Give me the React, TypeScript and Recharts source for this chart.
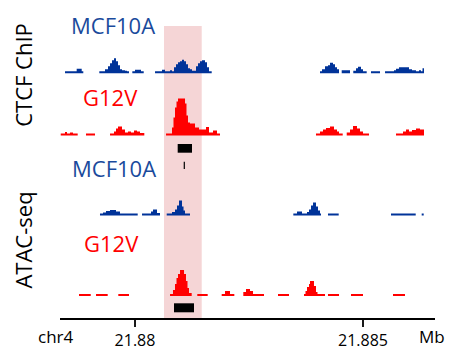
import React from "react";
import { ComposedChart, Area, Line, XAxis, YAxis } from "recharts";

// bedGraph-style tracks: [start bp, end bp, signal]
const ctcfMCF10A: [number, number, number][] = [
  [21878465, 21878721, 2], [21878721, 21878831, 4.5], [21878831, 21878866, 2],
  [21879217, 21879342, 2], [21879342, 21879408, 4], [21879408, 21879452, 7], [21879452, 21879496, 10],
  [21879496, 21879539, 13], [21879539, 21879583, 15], [21879583, 21879627, 12], [21879627, 21879671, 8],
  [21879671, 21879715, 4], [21879715, 21879781, 3], [21879781, 21879825, 2.5], [21879825, 21879868, 2],
  [21879941, 21880000, 2], [21880000, 21880132, 3.5], [21880132, 21880191, 2],
  [21880439, 21880592, 2], [21880592, 21880658, 3.5], [21880658, 21880768, 2], [21880768, 21880811, 3],
  [21880811, 21880855, 2], [21880855, 21880899, 6], [21880899, 21880943, 9], [21880943, 21880987, 11],
  [21880987, 21881031, 12], [21881031, 21881075, 13.5], [21881075, 21881118, 12], [21881118, 21881162, 9],
  [21881162, 21881206, 5], [21881206, 21881250, 4], [21881250, 21881338, 2.5], [21881338, 21881382, 7],
  [21881382, 21881425, 10], [21881425, 21881469, 12], [21881469, 21881535, 13], [21881535, 21881579, 11],
  [21881579, 21881623, 6], [21881623, 21881682, 2],
  [21884057, 21884101, 2], [21884101, 21884167, 4], [21884167, 21884232, 7], [21884232, 21884276, 8],
  [21884276, 21884342, 10.5], [21884342, 21884386, 9], [21884386, 21884430, 6], [21884430, 21884474, 4],
  [21884533, 21884715, 3],
  [21884787, 21884847, 2.5], [21884847, 21884890, 5], [21884890, 21884956, 6.5], [21884956, 21885000, 4],
  [21885000, 21885081, 2],
  [21885175, 21885373, 2],
  [21885483, 21885680, 2], [21885680, 21885724, 3], [21885724, 21885790, 4.5], [21885790, 21886009, 6],
  [21886009, 21886075, 4], [21886075, 21886162, 3], [21886162, 21886228, 2], [21886228, 21886272, 3],
  [21886272, 21886305, 2], [21886305, 21886338, 5],
];

const ctcfG12V: [number, number, number][] = [
  [21878371, 21878465, 2], [21878465, 21878509, 3.5], [21878509, 21878575, 2], [21878575, 21878640, 3],
  [21878640, 21878743, 2],
  [21878925, 21879123, 2],
  [21879452, 21879539, 2], [21879539, 21879583, 4], [21879583, 21879627, 7], [21879627, 21879715, 9],
  [21879715, 21879781, 6], [21879781, 21879846, 3], [21879846, 21879912, 4], [21879912, 21879978, 3],
  [21879978, 21880044, 5], [21880044, 21880110, 4], [21880110, 21880204, 2.5],
  [21880680, 21880811, 2], [21880811, 21880844, 8], [21880844, 21880877, 18], [21880877, 21880910, 28],
  [21880910, 21880943, 34], [21880943, 21881097, 37], [21881097, 21881129, 32], [21881129, 21881162, 20],
  [21881162, 21881206, 13], [21881206, 21881316, 12], [21881316, 21881404, 8], [21881404, 21881557, 6],
  [21881557, 21881623, 8.5], [21881623, 21881711, 3], [21881711, 21881798, 5], [21881798, 21881864, 2],
  [21883969, 21884057, 2], [21884057, 21884123, 4], [21884123, 21884189, 6], [21884189, 21884276, 7.5],
  [21884276, 21884364, 9], [21884364, 21884430, 6], [21884430, 21884474, 4], [21884474, 21884555, 2],
  [21884643, 21884715, 3], [21884715, 21884781, 6], [21884781, 21884868, 9.5], [21884868, 21884934, 7],
  [21884934, 21885000, 4], [21885000, 21885132, 2],
  [21885724, 21885877, 2], [21885877, 21885943, 4], [21885943, 21886009, 6], [21886009, 21886075, 4],
  [21886075, 21886162, 5.5], [21886162, 21886250, 7], [21886250, 21886338, 6],
];

const atacMCF10A: [number, number, number][] = [
  [21879232, 21879298, 2], [21879298, 21879364, 3], [21879364, 21879452, 4.5], [21879452, 21879583, 5.5],
  [21879583, 21879671, 4], [21879671, 21880059, 2],
  [21880154, 21880351, 2], [21880351, 21880395, 4], [21880395, 21880482, 6], [21880482, 21880548, 2.5],
  [21880695, 21880811, 2], [21880811, 21880877, 3.5], [21880877, 21880921, 6], [21880921, 21880965, 10],
  [21880965, 21881031, 15], [21881031, 21881064, 9], [21881064, 21881097, 5], [21881097, 21881206, 2],
  [21883472, 21883553, 2], [21883553, 21883662, 4], [21883662, 21883772, 2], [21883772, 21883816, 3.5],
  [21883816, 21883860, 6], [21883860, 21883904, 10], [21883904, 21883969, 13], [21883969, 21884013, 9],
  [21884013, 21884057, 5], [21884057, 21884079, 2],
  [21884232, 21884467, 2],
  [21885614, 21886156, 2],
  [21886287, 21886331, 2],
];

const atacG12V: [number, number, number][] = [
  [21878772, 21879029, 2],
  [21879145, 21879401, 2],
  [21879634, 21879868, 2],
  [21880768, 21880833, 2], [21880833, 21880877, 6], [21880877, 21880910, 12], [21880910, 21880943, 18],
  [21880943, 21880987, 22], [21880987, 21881075, 26], [21881075, 21881118, 22], [21881118, 21881151, 15],
  [21881151, 21881184, 8], [21881184, 21881243, 3],
  [21881366, 21881594, 2],
  [21881901, 21881974, 2], [21881974, 21882083, 5], [21882083, 21882178, 2],
  [21882375, 21882434, 4], [21882434, 21882522, 7], [21882522, 21882588, 5], [21882588, 21882829, 2],
  [21883136, 21883377, 2],
  [21883706, 21883739, 2], [21883739, 21883772, 5], [21883772, 21883816, 9], [21883816, 21883838, 12],
  [21883838, 21883925, 15], [21883925, 21883969, 10], [21883969, 21884002, 4], [21884002, 21884167, 2],
  [21884232, 21884474, 2],
  [21884737, 21885000, 2],
  [21885658, 21885921, 2],
];

// annotations (bp)
const highlightRegion: [number, number] = [21880636, 21881463];
const ctcfPeak: [number, number] = [21880936, 21881250];
const ctcfMotif = 21881081;
const atacPeak: [number, number] = [21880855, 21881294];

const xTicks = [21880000, 21885000];
const xDomain: [number, number] = [21878355, 21886579];

const BLUE = "#003399";
const TEXT_BLUE = "#1a4a9c";
const RED = "#ff0000";
const PINK = "#f5d5d6";
const FONT = "'Open Sans', sans-serif";

// track layout (y units = px above axis)
const BASE_CTCF_MCF = 245.7;
const BASE_CTCF_G12V = 183.5;
const BASE_ATAC_MCF = 103.5;
const BASE_ATAC_G12V = 23;

function toSteps(rows: [number, number, number][], base: number) {
  const pts: { x: number; y: number | null }[] = [];
  let prevEnd: number | null = null;
  let prevH = 0;
  for (const [s, e, h] of rows) {
    if (prevEnd !== null && s !== prevEnd) {
      pts.push({ x: prevEnd, y: base + prevH });
      pts.push({ x: (prevEnd + s) / 2, y: null });
    }
    pts.push({ x: s, y: base + h });
    prevEnd = e;
    prevH = h;
  }
  if (prevEnd !== null) pts.push({ x: prevEnd, y: base + prevH });
  return pts;
}

function box(range: [number, number], top: number) {
  return [
    { x: range[0], y: top },
    { x: range[1], y: top },
  ];
}

export default function App() {
  const tracks = [
    { data: toSteps(ctcfMCF10A, BASE_CTCF_MCF), base: BASE_CTCF_MCF, color: BLUE },
    { data: toSteps(ctcfG12V, BASE_CTCF_G12V), base: BASE_CTCF_G12V, color: RED },
    { data: toSteps(atacMCF10A, BASE_ATAC_MCF), base: BASE_ATAC_MCF, color: BLUE },
    { data: toSteps(atacG12V, BASE_ATAC_G12V), base: BASE_ATAC_G12V, color: RED },
  ];
  const motifData = [
    { x: ctcfMotif, y: 150 },
    { x: ctcfMotif, y: 157.3 },
  ];
  return (
    <div style={{ position: "absolute", left: 0, top: 0, width: 452, height: 351, background: "#fff" }}>
      <ComposedChart
        width={452}
        height={351}
        margin={{ top: 8, right: 17, bottom: 0, left: 60 }}
      >
        <XAxis
          type="number"
          dataKey="x"
          domain={xDomain}
          allowDataOverflow
          ticks={xTicks}
          tickFormatter={(v: number) => String(v / 1e6)}
          height={32}
          tickSize={8}
          tickMargin={8}
          axisLine={{ stroke: "#000", strokeWidth: 1.8 }}
          tickLine={{ stroke: "#000", strokeWidth: 1.8 }}
          tick={{ fill: "#000", fontSize: 16, fontFamily: FONT }}
        />
        <YAxis
          type="number"
          domain={[0, 311]}
          allowDataOverflow
          width={0}
          tick={false}
          tickLine={false}
          axisLine={{ stroke: "#000", strokeWidth: 1.8 }}
        />
        <Area
          data={box(highlightRegion, 293)}
          dataKey="y"
          type="linear"
          baseValue={0}
          stroke="none"
          fill={PINK}
          fillOpacity={1}
          dot={false}
          activeDot={false}
          isAnimationActive={false}
        />
        <Area
          data={box(ctcfPeak, 175)}
          dataKey="y"
          type="linear"
          baseValue={166.3}
          stroke="none"
          fill="#000"
          fillOpacity={1}
          dot={false}
          activeDot={false}
          isAnimationActive={false}
        />
        <Area
          data={box(atacPeak, 15.7)}
          dataKey="y"
          type="linear"
          baseValue={6.7}
          stroke="none"
          fill="#000"
          fillOpacity={1}
          dot={false}
          activeDot={false}
          isAnimationActive={false}
        />
        {tracks.map((t, i) => (
          <Area
            key={i}
            data={t.data}
            dataKey="y"
            type="stepAfter"
            baseValue={t.base}
            connectNulls={false}
            stroke="none"
            fill={t.color}
            fillOpacity={1}
            dot={false}
            activeDot={false}
            isAnimationActive={false}
          />
        ))}
        <Line
          data={motifData}
          dataKey="y"
          type="linear"
          stroke="#000"
          strokeWidth={1.2}
          dot={false}
          activeDot={false}
          isAnimationActive={false}
        />
      </ComposedChart>
      <svg
        width={452}
        height={351}
        style={{ position: "absolute", left: 0, top: 0, pointerEvents: "none" }}
        fontFamily={FONT}
      >
        <text x={32} y={75} transform="rotate(-90 32 75)" textAnchor="middle" fontSize={22} fill="#000">
          CTCF ChIP
        </text>
        <text x={32.3} y={240} transform="rotate(-90 32.3 240)" textAnchor="middle" fontSize={22} fill="#000">
          ATAC-seq
        </text>
        <text x={71} y={34} fontSize={22} fill={TEXT_BLUE}>MCF10A</text>
        <text x={83} y={106} fontSize={22} fill={RED}>G12V</text>
        <text x={72} y={177} fontSize={22} fill={TEXT_BLUE}>MCF10A</text>
        <text x={84} y={252} fontSize={22} fill={RED}>G12V</text>
        <text x={38} y={343} fontSize={17} fill="#000">chr4</text>
        <text x={419} y={343} fontSize={17} fill="#000">Mb</text>
      </svg>
    </div>
  );
}
